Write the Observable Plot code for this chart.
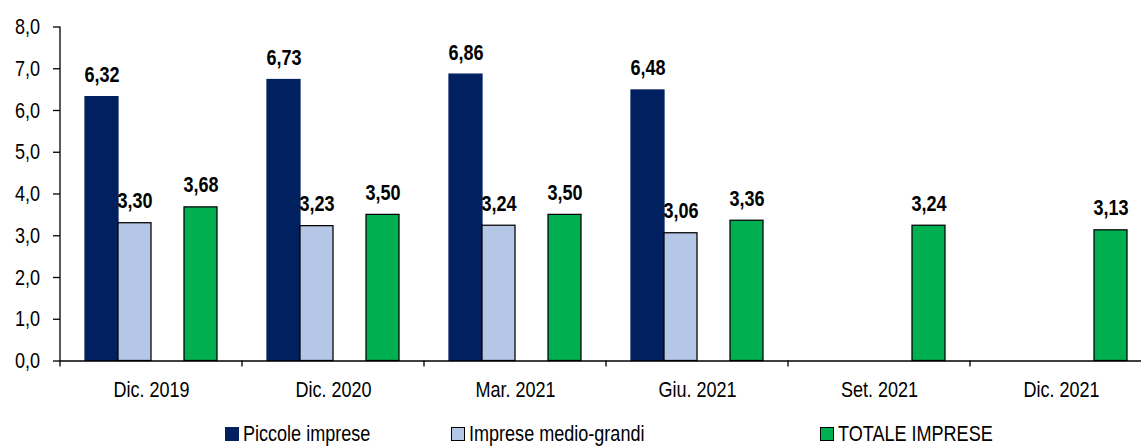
<!DOCTYPE html>
<html>
<head>
<meta charset="utf-8">
<script src="https://cdn.jsdelivr.net/npm/d3@7"></script>
<script src="https://cdn.jsdelivr.net/npm/@observablehq/plot@0.6"></script>
<style>
  html, body { margin: 0; padding: 0; background: #fff; overflow: hidden; }
  #chart { position: relative; width: 1152px; }
  .legend { position: relative; height: 36px; font-family: 'Liberation Sans', Arial, sans-serif; font-size: 22px; color: #000; }
  .legend .item { position: absolute; top: 0; height: 36px; }
  .legend .sw { position: absolute; top: 17px; left: 0; width: 14px; height: 14px; box-sizing: border-box; }
  .legend .lab { position: absolute; top: 13px; left: 18px; line-height: 22px; white-space: nowrap;
                 transform: scaleX(0.82); transform-origin: left center; }
</style>
</head>
<body>
<div id="chart"></div>
<script>
// Periods on the x axis
const categories = ["Dic. 2019", "Dic. 2020", "Mar. 2021", "Giu. 2021", "Set. 2021", "Dic. 2021"];
// Series names
const seriesNames = ["Piccole imprese", "Imprese medio-grandi", "TOTALE IMPRESE"];
// Values per series (null = not available)
const piccole = [6.32, 6.73, 6.86, 6.48, null, null];
const medioGrandi = [3.30, 3.23, 3.24, 3.06, null, null];
const totale = [3.68, 3.50, 3.50, 3.36, 3.24, 3.13];
// Y axis ticks
const yTicks = [0, 1, 2, 3, 4, 5, 6, 7, 8];

const fills = ["#002060", "#B4C7E7", "#00B050"];
const outlines = ["#002060", "#000000", "#000000"];
// Slots inside each period: two bars, an empty slot, then the total
const slots = ["Piccole imprese", "Imprese medio-grandi", "vuoto", "TOTALE IMPRESE"];

const seriesValues = [piccole, medioGrandi, totale];
const rows = [];
categories.forEach((c, i) => {
  seriesValues.forEach((arr, k) => {
    if (arr[i] != null) rows.push({periodo: c, serie: seriesNames[k], valore: arr[i]});
  });
});

const fmt = (v, d) => v.toFixed(d).replace(".", ",");
const font = "'Liberation Sans', Arial, sans-serif";
// horizontal squeeze giving a narrow typeface look
const narrow = 0.82;

const barMarks = seriesNames.map((s, k) =>
  Plot.barY(rows.filter(r => r.serie === s), {
    fx: "periodo", x: "serie", y: "valore",
    fill: fills[k], stroke: outlines[k], strokeWidth: 1.25
  })
);

const plot = Plot.plot({
  width: 1152,
  height: 410,
  marginLeft: 59,
  marginRight: 0,
  marginTop: 26.5,
  marginBottom: 49.5,
  style: {fontFamily: font, fontSize: "22px", color: "#000", background: "#fff", overflow: "visible"},
  fx: {domain: categories, padding: 0, label: null},
  x: {domain: slots, paddingInner: 0, paddingOuter: 0.72, axis: null},
  y: {domain: [0, 8], label: null},
  marks: [
    ...barMarks,
    Plot.ruleY([0], {stroke: "#000", strokeWidth: 1.3}),
    Plot.axisY({ticks: yTicks, tickFormat: d => fmt(d, 1), tickSize: 7, tickPadding: 13.5,
      label: null, strokeWidth: 1.3, fontSize: 22}),
    Plot.axisFx({anchor: "bottom", tickSize: 0, tickPadding: 20, label: null, fontSize: 22}),
    Plot.text(rows, {
      fx: "periodo", x: "serie", y: "valore",
      text: d => fmt(d.valore, 2),
      lineAnchor: "bottom", dy: -15,
      fontWeight: "bold", fontSize: 22, fill: "#000"
    })
  ]
});

// Narrow the text horizontally around each label's anchor point
d3.select(plot).selectAll("text").each(function () {
  const t = this.getAttribute("transform") || "";
  const xa = this.getAttribute("x");
  let shift = "";
  if (xa != null && !/em$/.test(xa)) {
    shift = `translate(${+xa || 0},0)`;
    this.removeAttribute("x");
  }
  this.setAttribute("transform", `${t} ${shift} scale(${narrow},1)`);
});

// Y axis line and the category boundary ticks, placed with the chart's own scales
const fxS = plot.scale("fx");
const yS = plot.scale("y");
const y0 = yS.apply(0);
const yTop = yS.apply(8);
const edges = categories.map(c => fxS.apply(c));
edges.push(fxS.apply(categories[categories.length - 1]) + fxS.bandwidth);
d3.select(plot).append("g")
  .attr("stroke", "#000")
  .attr("stroke-width", 1.3)
  .selectAll("line")
  .data(edges)
  .join("line")
  .attr("x1", d => d).attr("x2", d => d)
  .attr("y1", (d, i) => i === 0 ? yTop : y0)
  .attr("y2", y0 + 6);

const chart = document.getElementById("chart");
chart.appendChild(plot);

// Legend below the chart
const legendLeft = [225, 451, 820];
const legend = d3.select(chart).append("div").attr("class", "legend");
seriesNames.forEach((s, k) => {
  const item = legend.append("div").attr("class", "item").style("left", legendLeft[k] + "px");
  item.append("div").attr("class", "sw")
    .style("background", fills[k])
    .style("border", k === 0 ? "none" : "1px solid #000");
  item.append("div").attr("class", "lab").text(s);
});
</script>
</body>
</html>
